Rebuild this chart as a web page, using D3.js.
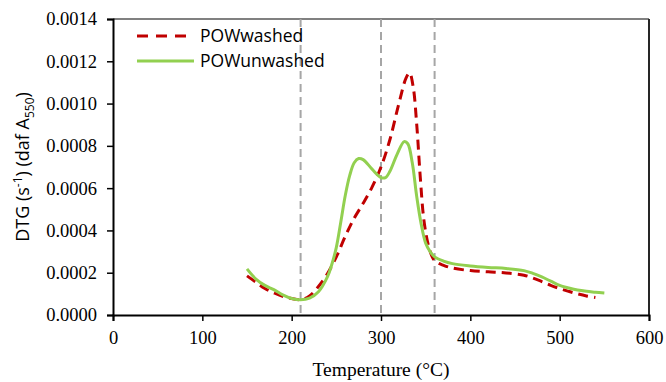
<!DOCTYPE html>
<html>
<head>
<meta charset="utf-8">
<script src="https://cdn.jsdelivr.net/npm/d3@7"></script>
<style>
  body { margin: 0; background: #fff; }
  svg { display: block; }
</style>
</head>
<body>
<div id="chart"></div>
<script>
// temperature (°C) and DTG values
var washedTemp = [150, 160, 170, 180, 190, 200, 210, 220, 230, 240, 250, 260, 270, 280, 290, 300, 310, 320, 328, 332, 336, 340, 344, 348, 353, 358, 362, 370, 380, 400, 420, 440, 460, 470, 480, 490, 500, 510, 520, 530, 540];
var washedDTG = [0.000185, 0.000155, 0.000125, 0.000105, 0.000088, 0.000078, 0.000072, 0.000090, 0.000135, 0.000195, 0.000275, 0.000372, 0.000458, 0.000528, 0.000605, 0.000700, 0.000830, 0.001000, 0.001120, 0.001145, 0.001080, 0.000900, 0.000650, 0.000450, 0.000330, 0.000270, 0.000250, 0.000235, 0.000222, 0.000210, 0.000204, 0.000199, 0.000188, 0.000175, 0.000158, 0.000140, 0.000125, 0.000112, 0.000100, 0.000090, 0.000083];

var unwashedTemp = [150, 160, 170, 180, 190, 200, 210, 220, 230, 240, 245, 250, 255, 260, 265, 270, 275, 280, 290, 300, 305, 310, 318, 326, 330, 335, 340, 345, 350, 355, 360, 370, 380, 400, 420, 440, 460, 470, 480, 490, 500, 510, 520, 530, 540, 550];
var unwashedDTG = [0.000218, 0.000170, 0.000140, 0.000120, 0.000095, 0.000078, 0.000072, 0.000080, 0.000110, 0.000180, 0.000240, 0.000320, 0.000440, 0.000565, 0.000660, 0.000720, 0.000740, 0.000735, 0.000690, 0.000650, 0.000650, 0.000680, 0.000760, 0.000820, 0.000810, 0.000720, 0.000560, 0.000430, 0.000340, 0.000300, 0.000275, 0.000255, 0.000243, 0.000232, 0.000225, 0.000220, 0.000210, 0.000197, 0.000180, 0.000160, 0.000140, 0.000128, 0.000118, 0.000112, 0.000108, 0.000104];

var markerTemps = [210, 300, 360];
var xTicks = [0, 100, 200, 300, 400, 500, 600];
var yTicks = [0, 0.0002, 0.0004, 0.0006, 0.0008, 0.0010, 0.0012, 0.0014];
var seriesNames = ['POWwashed', 'POWunwashed'];

var width = 666, height = 382;
var margin = {left: 113, right: 17, top: 19, bottom: 67};

var svg = d3.select('#chart')
    .append('svg')
    .attr('width', width)
    .attr('height', height);

var x = d3.scaleLinear().domain([0, 600]).range([margin.left, width - margin.right]);
var y = d3.scaleLinear().domain([0, 0.0014]).range([height - margin.bottom, margin.top]);

// frame: top and right edges
svg.append('line')
    .attr('x1', x(0)).attr('x2', x(600))
    .attr('y1', y(0.0014)).attr('y2', y(0.0014))
    .style('stroke', '#808080').style('stroke-width', 2);
svg.append('line')
    .attr('x1', x(600)).attr('x2', x(600))
    .attr('y1', y(0.0014)).attr('y2', y(0))
    .style('stroke', '#262626').style('stroke-width', 2);

// grey dashed markers
svg.selectAll('.marker')
    .data(markerTemps)
    .enter().append('line')
    .attr('class', 'marker')
    .attr('x1', function (d) { return x(d); })
    .attr('x2', function (d) { return x(d); })
    .attr('y1', y(0.0014))
    .attr('y2', y(0))
    .style('stroke', '#a6a6a6')
    .style('stroke-width', 2)
    .style('stroke-dasharray', '8,5');

var line = d3.line()
    .x(function (d) { return x(d[0]); })
    .y(function (d) { return y(d[1]); })
    .curve(d3.curveCatmullRom.alpha(0.5));

var washed = d3.zip(washedTemp, washedDTG);
var unwashed = d3.zip(unwashedTemp, unwashedDTG);

svg.append('path')
    .datum(washed)
    .attr('d', line)
    .style('fill', 'none')
    .style('stroke', '#c00000')
    .style('stroke-width', 3)
    .style('stroke-dasharray', '10,6');

svg.append('path')
    .datum(unwashed)
    .attr('d', line)
    .style('fill', 'none')
    .style('stroke', '#92d050')
    .style('stroke-width', 3);

// axes
var xAxis = svg.append('g')
    .attr('transform', 'translate(0,' + y(0) + ')')
    .call(d3.axisBottom(x).tickValues(xTicks).tickSize(6).tickPadding(10));
var yAxis = svg.append('g')
    .attr('transform', 'translate(' + x(0) + ',0)')
    .call(d3.axisLeft(y).tickValues(yTicks).tickSize(6).tickPadding(10)
        .tickFormat(d3.format('.4f')));

[xAxis, yAxis].forEach(function (g) {
    g.select('.domain').style('stroke', '#000').style('stroke-width', 2);
    g.selectAll('.tick line').style('stroke', '#000').style('stroke-width', 1.5);
    g.selectAll('.tick text')
        .style('font-family', '"Liberation Serif", "Times New Roman", serif')
        .style('font-size', '18.5px')
        .style('fill', '#000');
});

// axis titles
svg.append('text')
    .attr('x', (x(0) + x(600)) / 2)
    .attr('y', 376)
    .attr('text-anchor', 'middle')
    .style('font-family', '"Liberation Serif", "Times New Roman", serif')
    .style('font-size', '19.5px')
    .text('Temperature (°C)');

var yt = svg.append('text')
    .attr('transform', 'translate(29,' + (y(0) + y(0.0014)) / 2 + ') rotate(-90)')
    .attr('text-anchor', 'middle')
    .style('font-family', '"Open Sans", sans-serif')
    .style('font-size', '18px');
yt.append('tspan').text('DTG (s');
yt.append('tspan').attr('dy', -7).style('font-size', '12px').text('-1');
yt.append('tspan').attr('dy', 7).text(') (daf A');
yt.append('tspan').attr('dy', 5).style('font-size', '12px').text('550');
yt.append('tspan').attr('dy', -5).text(')');

// legend
var legend = svg.selectAll('.legend')
    .data(seriesNames)
    .enter().append('g')
    .attr('class', 'legend')
    .attr('transform', function (d, i) { return 'translate(137,' + (36 + i * 25) + ')'; });

legend.append('line')
    .attr('x1', 0).attr('x2', 57)
    .attr('y1', 0).attr('y2', 0)
    .style('stroke', function (d, i) { return i === 0 ? '#c00000' : '#92d050'; })
    .style('stroke-width', 3)
    .style('stroke-dasharray', function (d, i) { return i === 0 ? '11,8' : null; });

legend.append('text')
    .attr('x', 63)
    .attr('y', 6)
    .style('font-family', '"Open Sans", sans-serif')
    .style('font-size', '17.5px')
    .text(function (d) { return d; });
</script>
</body>
</html>
